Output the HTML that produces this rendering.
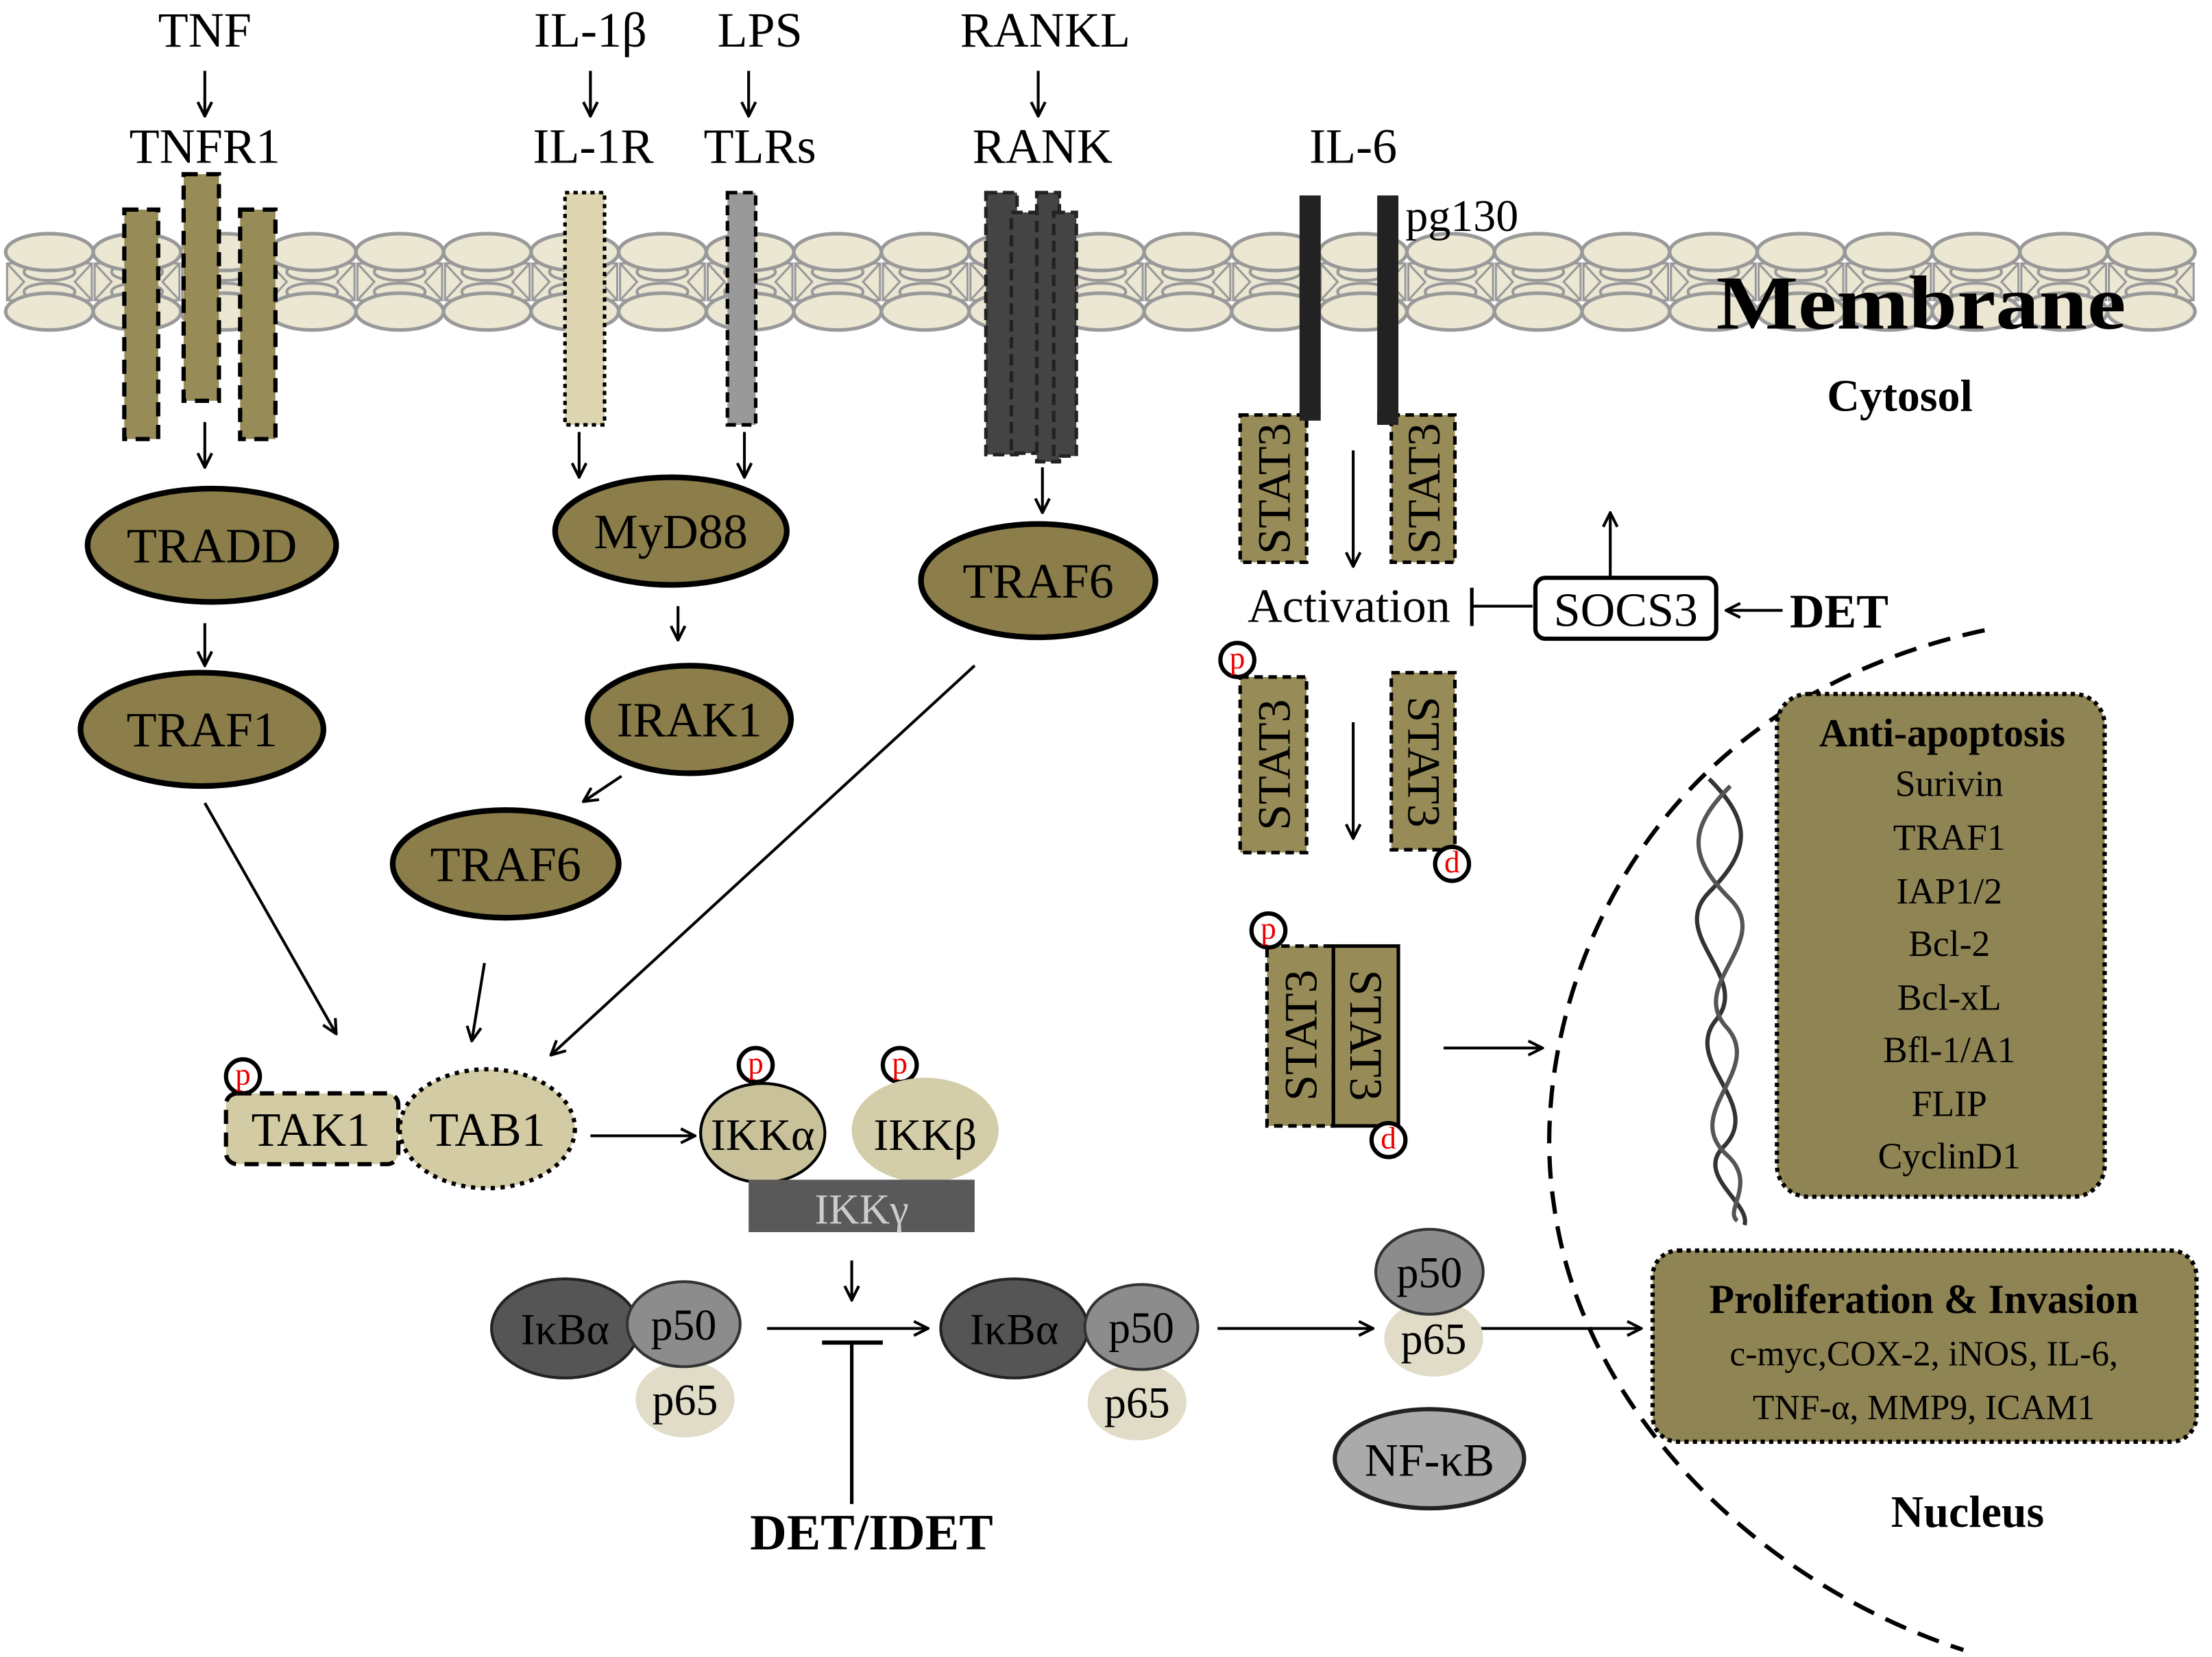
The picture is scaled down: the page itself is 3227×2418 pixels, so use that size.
<!DOCTYPE html>
<html><head><meta charset="utf-8"><style>
html,body{margin:0;padding:0;background:#fff}
svg{display:block}
text{font-family:"Liberation Serif","DejaVu Serif",serif}
</style></head><body>
<svg width="3227" height="2418" viewBox="0 0 1566 1170" preserveAspectRatio="none" xmlns="http://www.w3.org/2000/svg">
<defs>
<marker id="a" viewBox="0 0 12 12" refX="11" refY="6" markerWidth="12" markerHeight="12" markerUnits="userSpaceOnUse" orient="auto"><path d="M1 1 L11 6 L1 11" fill="none" stroke="#000" stroke-width="2"/></marker>
<g id="lip">
<rect x="-30" y="186" width="60" height="26" fill="#ebe7d3" stroke="#999" stroke-width="1.5"/>
<path d="M-30 186 L-18 199 L-30 212 M30 186 L18 199 L30 212" stroke="#999" fill="none" stroke-width="1.5"/>
<ellipse cx="0" cy="192" rx="18" ry="6" fill="#ebe7d3" stroke="#999" stroke-width="2"/>
<ellipse cx="0" cy="206" rx="18" ry="6" fill="#ebe7d3" stroke="#999" stroke-width="2"/>
<ellipse cx="0" cy="178" rx="31" ry="13" fill="#ebe7d3" stroke="#999" stroke-width="2.5"/>
<ellipse cx="0" cy="220" rx="31" ry="13" fill="#ebe7d3" stroke="#999" stroke-width="2.5"/>
</g>
</defs>
<g>
<use href="#lip" x="35"/><use href="#lip" x="97"/><use href="#lip" x="159"/><use href="#lip" x="221"/><use href="#lip" x="283"/><use href="#lip" x="345"/><use href="#lip" x="407"/><use href="#lip" x="469"/><use href="#lip" x="531"/><use href="#lip" x="593"/><use href="#lip" x="655"/><use href="#lip" x="717"/><use href="#lip" x="779"/><use href="#lip" x="841"/><use href="#lip" x="903"/><use href="#lip" x="965"/><use href="#lip" x="1027"/><use href="#lip" x="1089"/><use href="#lip" x="1151"/><use href="#lip" x="1213"/><use href="#lip" x="1275"/><use href="#lip" x="1337"/><use href="#lip" x="1399"/><use href="#lip" x="1461"/><use href="#lip" x="1523"/>
</g>
<text x="1360" y="232" font-size="54" font-weight="bold" text-anchor="middle" textLength="290" lengthAdjust="spacingAndGlyphs">Membrane</text>
<text x="1345" y="290" font-size="32" font-weight="bold" text-anchor="middle">Cytosol</text>

<g font-size="35" text-anchor="middle">
<text x="145" y="33">TNF</text><text x="145" y="115">TNFR1</text>
<text x="418" y="33">IL-1β</text><text x="420" y="115">IL-1R</text>
<text x="538" y="33">LPS</text><text x="538" y="115">TLRs</text>
<text x="740" y="33">RANKL</text><text x="738" y="115">RANK</text>
<text x="958" y="115">IL-6</text>
</g>
<text x="995" y="163" font-size="32">pg130</text>
<g stroke="#000" stroke-width="2" marker-end="url(#a)">
<line x1="145" y1="50" x2="145" y2="82"/><line x1="418" y1="50" x2="418" y2="82"/><line x1="530" y1="50" x2="530" y2="82"/><line x1="735" y1="50" x2="735" y2="82"/>
<line x1="145" y1="298" x2="145" y2="330"/><line x1="410" y1="305" x2="410" y2="337"/><line x1="527" y1="305" x2="527" y2="337"/><line x1="738" y1="330" x2="738" y2="362"/>
<line x1="145" y1="440" x2="145" y2="470"/><line x1="480" y1="428" x2="480" y2="452"/><line x1="440" y1="548" x2="413" y2="566"/>
<line x1="145" y1="567" x2="238" y2="730"/><line x1="343" y1="680" x2="334" y2="735"/><line x1="690" y1="470" x2="390" y2="745"/>
<line x1="418" y1="802" x2="492" y2="802"/><line x1="603" y1="890" x2="603" y2="918"/>
<line x1="543" y1="938" x2="657" y2="938"/><line x1="862" y1="938" x2="972" y2="938"/><line x1="1045" y1="938" x2="1162" y2="938"/>
<line x1="958" y1="318" x2="958" y2="400"/><line x1="958" y1="510" x2="958" y2="592"/><line x1="1140" y1="408" x2="1140" y2="362"/>
<line x1="1262" y1="431" x2="1222" y2="431"/><line x1="1022" y1="740" x2="1092" y2="740"/>
</g>

<g stroke="#000" stroke-width="3" stroke-dasharray="10 6" fill="#978b58">
<rect x="88" y="148" width="24" height="162"/><rect x="130" y="123" width="25" height="160"/><rect x="170" y="148" width="25" height="162"/>
</g>
<rect x="400" y="136" width="28" height="164" fill="#ddd5b0" stroke="#000" stroke-width="2.5" stroke-dasharray="3 3"/>
<rect x="515" y="136" width="20" height="164" fill="#999" stroke="#000" stroke-width="2.5" stroke-dasharray="7 4"/>
<g stroke="#222" stroke-width="2.5" stroke-dasharray="8 4" fill="#444">
<rect x="698" y="136" width="22" height="185"/><rect x="716" y="150" width="22" height="170"/><rect x="734" y="136" width="16" height="190"/><rect x="746" y="150" width="16" height="172"/>
</g>
<rect x="920" y="138" width="15" height="155" fill="#222"/><rect x="975" y="138" width="15" height="162" fill="#222"/>

<g fill="#8b7e4a" stroke="#000" stroke-width="4">
<ellipse cx="150" cy="385" rx="88" ry="40"/><ellipse cx="143" cy="515" rx="86" ry="40"/>
<ellipse cx="475" cy="375" rx="82" ry="38"/><ellipse cx="488" cy="508" rx="72" ry="38"/>
<ellipse cx="358" cy="610" rx="80" ry="38"/><ellipse cx="735" cy="410" rx="83" ry="40"/>
</g>
<g font-size="35" text-anchor="middle">
<text x="150" y="397">TRADD</text><text x="143" y="527">TRAF1</text><text x="475" y="387">MyD88</text>
<text x="488" y="520">IRAK1</text><text x="358" y="622">TRAF6</text><text x="735" y="422">TRAF6</text>
</g>

<g stroke="#000" stroke-width="2.5" stroke-dasharray="6 4" fill="#978b58">
<rect x="878" y="293" width="47" height="104"/><rect x="985" y="293" width="45" height="104"/>
<rect x="878" y="478" width="47" height="124"/><rect x="985" y="475" width="45" height="125"/>
<rect x="897" y="668" width="47" height="127"/>
</g>
<rect x="944" y="668" width="46" height="127" fill="#978b58" stroke="#000" stroke-width="2.5"/>
<rect x="920" y="290" width="15" height="7" fill="#222"/><rect x="975" y="290" width="15" height="10" fill="#222"/>
<g font-size="33" text-anchor="middle">
<text transform="translate(913,345) rotate(-90)">STAT3</text>
<text transform="translate(1019,345) rotate(-90)">STAT3</text>
<text transform="translate(913,540) rotate(-90)">STAT3</text>
<text transform="translate(997,538) rotate(90)">STAT3</text>
<text transform="translate(932,731) rotate(-90)">STAT3</text>
<text transform="translate(956,731) rotate(90)">STAT3</text>
</g>
<text x="955" y="439" font-size="34" text-anchor="middle">Activation</text>
<line x1="1085" y1="428" x2="1042" y2="428" stroke="#000" stroke-width="2"/><line x1="1042" y1="415" x2="1042" y2="442" stroke="#000" stroke-width="2.5"/>
<rect x="1087" y="408" width="128" height="43" rx="7" fill="#fff" stroke="#000" stroke-width="3"/>
<text x="1151" y="442" font-size="34" text-anchor="middle">SOCS3</text>
<text x="1302" y="443" font-size="34" font-weight="bold" text-anchor="middle">DET</text>

<g fill="#fff" stroke="#000" stroke-width="3">
<circle cx="876" cy="466" r="12"/><circle cx="1028" cy="610" r="12"/><circle cx="898" cy="657" r="12"/><circle cx="983" cy="805" r="12"/>
<circle cx="172" cy="760" r="12"/><circle cx="535" cy="752" r="12"/><circle cx="637" cy="752" r="12"/><circle cx="683" cy="933" r="12"/>
</g>
<g fill="#e00" font-size="22" text-anchor="middle">
<text x="876" y="472">p</text><text x="1028" y="616">d</text><text x="898" y="663">p</text><text x="983" y="811">d</text>
<text x="172" y="766">p</text><text x="535" y="758">p</text><text x="637" y="758">p</text><text x="683" y="939">p</text>
</g>

<rect x="160" y="772" width="122" height="50" rx="8" fill="#d3cba3" stroke="#000" stroke-width="3" stroke-dasharray="10 6"/>
<ellipse cx="345" cy="797" rx="62" ry="42" fill="#d3cba3" stroke="#000" stroke-width="3" stroke-dasharray="3 4"/>
<text x="220" y="809" font-size="34" text-anchor="middle">TAK1</text><text x="345" y="809" font-size="34" text-anchor="middle">TAB1</text>
<ellipse cx="655" cy="798" rx="52" ry="37" fill="#d3cda9"/>
<ellipse cx="540" cy="800" rx="44" ry="35" fill="#c9c19a" stroke="#000" stroke-width="2"/>
<text x="540" y="812" font-size="32" text-anchor="middle">IKKα</text><text x="655" y="812" font-size="32" text-anchor="middle">IKKβ</text>
<rect x="530" y="833" width="160" height="37" fill="#595959"/>
<text x="610" y="864" font-size="30" fill="#ccc" text-anchor="middle">IKKγ</text>

<g font-size="31" text-anchor="middle">
<ellipse cx="485" cy="988" rx="35" ry="27" fill="#e0dcc7"/>
<ellipse cx="400" cy="938" rx="52" ry="35" fill="#555" stroke="#222" stroke-width="2"/>
<ellipse cx="484" cy="935" rx="40" ry="30" fill="#8c8c8c" stroke="#333" stroke-width="2"/>
<text x="400" y="949">IκBα</text><text x="484" y="946">p50</text><text x="485" y="999">p65</text>
<ellipse cx="805" cy="990" rx="35" ry="27" fill="#e0dcc7"/>
<ellipse cx="718" cy="938" rx="52" ry="35" fill="#555" stroke="#222" stroke-width="2"/>
<ellipse cx="808" cy="937" rx="40" ry="30" fill="#8c8c8c" stroke="#333" stroke-width="2"/>
<text x="718" y="949">IκBα</text><text x="808" y="948">p50</text><text x="805" y="1001">p65</text>
<ellipse cx="1015" cy="945" rx="35" ry="27" fill="#e0dcc7"/>
<ellipse cx="1012" cy="898" rx="38" ry="30" fill="#8c8c8c" stroke="#333" stroke-width="2"/>
<text x="1012" y="909">p50</text><text x="1015" y="956">p65</text>
<ellipse cx="1012" cy="1030" rx="67" ry="35" fill="#aaa" stroke="#222" stroke-width="3"/>
<text x="1012" y="1042" font-size="33">NF-κB</text>
</g>
<line x1="603" y1="948" x2="603" y2="1062" stroke="#000" stroke-width="2.5"/><line x1="582" y1="948" x2="625" y2="948" stroke="#000" stroke-width="3"/>
<text x="617" y="1094" font-size="36" font-weight="bold" text-anchor="middle">DET/IDET</text>

<path d="M1405 445 C1150 500 1080 720 1100 850 C1120 1000 1250 1120 1390 1165" fill="none" stroke="#000" stroke-width="3" stroke-dasharray="16 9"/>
<path d="M1210 550 C1240 580 1240 600 1210 630 C1180 660 1240 690 1215 720 C1190 750 1250 780 1220 810 C1200 830 1240 850 1235 865" fill="none" stroke="#333" stroke-width="3"/>
<path d="M1225 555 C1195 585 1195 605 1225 635 C1255 665 1195 695 1222 725 C1250 755 1190 785 1222 815 C1245 835 1220 855 1230 862" fill="none" stroke="#555" stroke-width="3"/>
<rect x="1258" y="490" width="232" height="355" rx="22" fill="#8f8453" stroke="#000" stroke-width="3" stroke-dasharray="3 3"/>
<g text-anchor="middle" font-size="26">
<text x="1375" y="527" font-size="28" font-weight="bold">Anti-apoptosis</text>
<text x="1380" y="562">Surivin</text><text x="1380" y="600">TRAF1</text><text x="1380" y="638">IAP1/2</text><text x="1380" y="675">Bcl-2</text>
<text x="1380" y="713">Bcl-xL</text><text x="1380" y="750">Bfl-1/A1</text><text x="1380" y="788">FLIP</text><text x="1380" y="825">CyclinD1</text>
</g>
<rect x="1170" y="883" width="385" height="135" rx="18" fill="#8f8453" stroke="#000" stroke-width="3" stroke-dasharray="3 3"/>
<g text-anchor="middle">
<text x="1362" y="927" font-size="29" font-weight="bold">Proliferation &amp; Invasion</text>
<text x="1362" y="964" font-size="25">c-myc,COX-2,  iNOS, IL-6,</text>
<text x="1362" y="1002" font-size="25">TNF-α, MMP9, ICAM1</text>
<text x="1393" y="1078" font-size="32" font-weight="bold">Nucleus</text>
</g>
</svg>
</body></html>
